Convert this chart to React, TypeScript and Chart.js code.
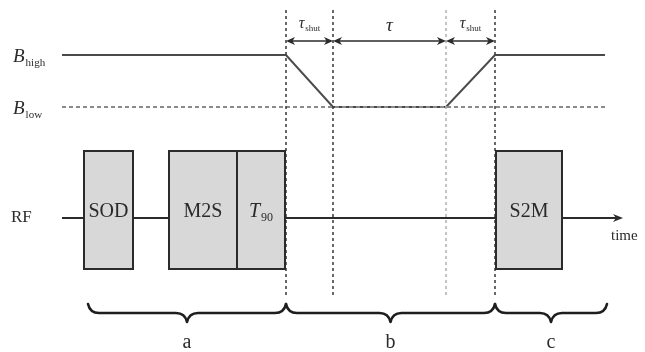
import { useEffect, useRef } from "react";
import { Chart, registerables } from "chart.js";

Chart.register(...registerables);

// Timing diagram in diagram units: time runs left → right, rows run top → bottom.
const fieldTimes = [62, 286, 333, 446, 495, 605];
const fieldLevels = [55, 55, 107, 107, 55, 55];
const lowLevelTimes = [62, 605];
const lowLevel = 107;
const rfTimes = [62, 623];
const rfLevel = 218;

const markerTimes = [286, 333, 446, 495];
const markerFaint = [false, false, true, false];
const markerSpan = [10, 296];

const pulseNames = ["SOD", "M2S", "T|90", "S2M"];
const pulseStarts = [84, 169, 237, 496];
const pulseEnds = [133, 237, 285, 562];
const pulseSpan = [151, 269];

const intervalLabels = ["τ|shut", "τ", "τ|shut"];
const intervalStarts = [286, 333, 446];
const intervalEnds = [333, 446, 495];
const arrowLevel = 41;

const phaseNames = ["a", "b", "c"];
const phaseStarts = [88, 286, 495];
const phaseEnds = [286, 495, 607];
const braceSpan = [304, 313, 322];

const rowNames = ["B|high", "B|low", "RF"];
const rowLevels = [55, 107, 218];

const SERIF = '"Liberation Serif", "DejaVu Serif", serif';
const INK = "#2b2b2b";

type Pt = { x: number; y: number };

function pts(xs: number[], ys: number[]): Pt[] {
  return xs.map((x, i) => ({ x, y: ys[i] }));
}

// Draws "main|sub" as a main glyph run followed by a lowered subscript.
function drawSub(
  ctx: CanvasRenderingContext2D,
  label: string,
  x: number,
  y: number,
  size: number,
  subSize: number,
  italic: boolean,
  align: "left" | "center"
) {
  const [main, sub] = label.split("|");
  const mainFont = `${italic ? "italic " : ""}${size}px ${SERIF}`;
  const subFont = `${subSize}px ${SERIF}`;
  ctx.font = mainFont;
  const wm = ctx.measureText(main).width;
  ctx.font = subFont;
  const ws = sub ? ctx.measureText(sub).width : 0;
  const total = wm + (sub ? ws + 1 : 0);
  const x0 = align === "center" ? x - total / 2 : x;
  ctx.textAlign = "left";
  ctx.textBaseline = "alphabetic";
  ctx.font = mainFont;
  ctx.fillText(main, x0, y);
  if (sub) {
    ctx.font = subFont;
    ctx.fillText(sub, x0 + wm + 1, y + subSize * 0.35);
  }
}

function arrowHead(ctx: CanvasRenderingContext2D, tipX: number, y: number, dir: number) {
  ctx.beginPath();
  ctx.moveTo(tipX, y);
  ctx.lineTo(tipX - dir * 9, y - 4);
  ctx.lineTo(tipX - dir * 6.5, y);
  ctx.lineTo(tipX - dir * 9, y + 4);
  ctx.closePath();
  ctx.fill();
}

const diagramPlugin = {
  id: "timingDiagram",
  afterDatasetsDraw(chart: Chart) {
    const ctx = chart.ctx;
    const sx = chart.scales.x;
    const sy = chart.scales.y;
    const px = (v: number) => sx.getPixelForValue(v);
    const py = (v: number) => sy.getPixelForValue(v);
    ctx.save();

    // RF pulse blocks sit on top of the RF line
    pulseNames.forEach((name, i) => {
      const x0 = px(pulseStarts[i]);
      const x1 = px(pulseEnds[i]);
      const y0 = py(pulseSpan[0]);
      const y1 = py(pulseSpan[1]);
      ctx.fillStyle = "#d8d8d8";
      ctx.fillRect(x0, y0, x1 - x0, y1 - y0);
      ctx.strokeStyle = INK;
      ctx.lineWidth = 2;
      ctx.strokeRect(x0, y0, x1 - x0, y1 - y0);
      ctx.fillStyle = "#2a2a2a";
      const cx = (x0 + x1) / 2;
      const italic = name.includes("|");
      drawSub(ctx, name, cx, py(rfLevel) - 1, 20, 12, italic, "center");
    });

    // interval arrows with labels
    ctx.strokeStyle = INK;
    ctx.fillStyle = INK;
    ctx.lineWidth = 1.7;
    intervalLabels.forEach((label, i) => {
      const x0 = px(intervalStarts[i]);
      const x1 = px(intervalEnds[i]);
      const y = py(arrowLevel);
      ctx.beginPath();
      ctx.moveTo(x0 + 4, y);
      ctx.lineTo(x1 - 4, y);
      ctx.stroke();
      arrowHead(ctx, x0, y, -1);
      arrowHead(ctx, x1, y, 1);
      const cx = (x0 + x1) / 2;
      if (label.includes("|")) {
        drawSub(ctx, label, cx, y - 13, 16, 9, true, "center");
      } else {
        ctx.font = `italic 19px ${SERIF}`;
        ctx.textAlign = "center";
        ctx.textBaseline = "alphabetic";
        ctx.fillText(label, cx, y - 10);
      }
    });

    // time axis arrow head and caption
    const tipX = px(rfTimes[1]);
    const ry = py(rfLevel);
    ctx.beginPath();
    ctx.moveTo(tipX, ry);
    ctx.lineTo(tipX - 10, ry - 4);
    ctx.lineTo(tipX - 7, ry);
    ctx.lineTo(tipX - 10, ry + 4);
    ctx.closePath();
    ctx.fill();
    ctx.font = `15px ${SERIF}`;
    ctx.textAlign = "left";
    ctx.fillText("time", tipX - 12, ry + 22);

    // row labels
    rowNames.forEach((name, i) => {
      const y = py(rowLevels[i]) + 7;
      if (name.includes("|")) {
        drawSub(ctx, name, 13, y, 19, 11, true, "left");
      } else {
        ctx.font = `17px ${SERIF}`;
        ctx.textAlign = "left";
        ctx.fillText(name, 11, y - 3);
      }
    });

    // phase braces
    ctx.lineWidth = 2.6;
    ctx.strokeStyle = "#1e1e1e";
    ctx.lineJoin = "round";
    ctx.lineCap = "round";
    phaseNames.forEach((name, i) => {
      const x0 = px(phaseStarts[i]);
      const x1 = px(phaseEnds[i]);
      const xm = (x0 + x1) / 2;
      const yTop = py(braceSpan[0]);
      const yMid = py(braceSpan[1]);
      const yTip = py(braceSpan[2]);
      const r = 11;
      ctx.beginPath();
      ctx.moveTo(x0, yTop);
      ctx.quadraticCurveTo(x0 + 2, yMid, x0 + r, yMid);
      ctx.lineTo(xm - r, yMid);
      ctx.quadraticCurveTo(xm - 2, yMid, xm, yTip);
      ctx.quadraticCurveTo(xm + 2, yMid, xm + r, yMid);
      ctx.lineTo(x1 - r, yMid);
      ctx.quadraticCurveTo(x1 - 2, yMid, x1, yTop);
      ctx.stroke();
      ctx.font = `20px ${SERIF}`;
      ctx.textAlign = "center";
      ctx.fillStyle = "#2a2a2a";
      ctx.fillText(name, xm, yTip + 26);
    });

    ctx.restore();
  },
};

export default function App() {
  const canvasRef = useRef<HTMLCanvasElement | null>(null);

  useEffect(() => {
    const canvas = canvasRef.current;
    if (!canvas) return;

    const markerSets = markerTimes.map((t, i) => ({
      label: `marker ${i}`,
      data: pts([t, t], markerSpan),
      showLine: true,
      borderColor: markerFaint[i] ? "#b5b5b5" : "#444444",
      borderWidth: 1.6,
      borderDash: [3, 3],
      pointRadius: 0,
    }));

    const chart = new Chart(canvas, {
      type: "scatter",
      data: {
        datasets: [
          ...markerSets,
          {
            label: "B low",
            data: pts(lowLevelTimes, [lowLevel, lowLevel]),
            showLine: true,
            borderColor: "#8a8a8a",
            borderWidth: 1.8,
            borderDash: [4, 3],
            pointRadius: 0,
          },
          {
            label: "B field",
            data: pts(fieldTimes, fieldLevels),
            showLine: true,
            borderColor: "#4a4a4a",
            borderWidth: 2,
            pointRadius: 0,
            tension: 0,
          },
          {
            label: "RF",
            data: pts([rfTimes[0], rfTimes[1] - 7], [rfLevel, rfLevel]),
            showLine: true,
            borderColor: INK,
            borderWidth: 2,
            pointRadius: 0,
          },
        ],
      },
      options: {
        animation: false,
        responsive: false,
        maintainAspectRatio: false,
        layout: { padding: 0 },
        plugins: {
          legend: { display: false },
          tooltip: { enabled: false },
        },
        scales: {
          x: { type: "linear", min: 0, max: 645, display: false },
          y: { type: "linear", min: 0, max: 352, reverse: true, display: false },
        },
      },
      plugins: [diagramPlugin],
    });

    return () => chart.destroy();
  }, []);

  return (
    <div style={{ position: "absolute", left: 0, top: 0, width: 645, height: 352, background: "#ffffff" }}>
      <canvas ref={canvasRef} width={645} height={352} />
    </div>
  );
}
